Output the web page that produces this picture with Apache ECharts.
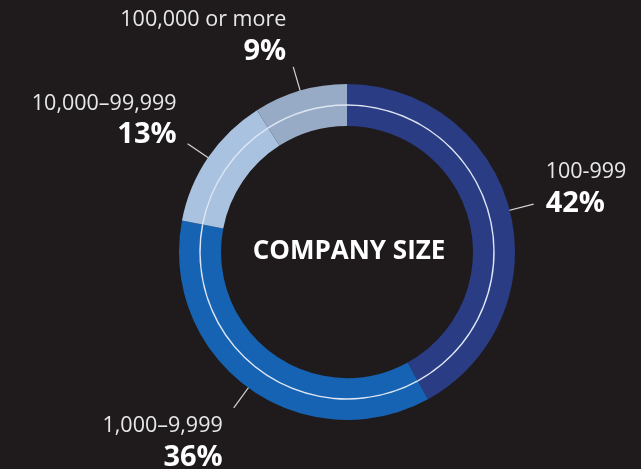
<!DOCTYPE html>
<html>
<head>
<meta charset="utf-8">
<style>
  html, body { margin: 0; padding: 0; background: #1f1b1c; }
  #chart { width: 641px; height: 469px; }
</style>
<script src="https://cdn.jsdelivr.net/npm/echarts@6/dist/echarts.min.js"></script>
</head>
<body>
<div id="chart"></div>
<script>
// Share of respondents by company size (number of employees)
const sizeCategories = ['100-999', '1,000–9,999', '10,000–99,999', '100,000 or more'];
const sizeShares = [42, 36, 13, 9];
const sliceColors = ['#2a3c84', '#1763b3', '#a9c2e0', '#98abc6'];
const centerTitle = 'COMPANY SIZE';

// Per-slice nudges so each two-line label sits beside its leader line
const labelPadding = [
  [0, 0, 30, 7],
  [70, 6, 0, 0],
  [0, 6, 46, 0],
  [0, 2, 60, 0]
];

const FONT = '"Open Sans", "Noto Sans", sans-serif';
const CENTER = [347, 252];

const ringData = sizeCategories.map((name, i) => ({
  name,
  value: sizeShares[i],
  itemStyle: { color: sliceColors[i] }
}));

const guideData = sizeCategories.map((name, i) => ({
  name,
  value: sizeShares[i],
  label: { padding: labelPadding[i] }
}));

const chart = echarts.init(document.getElementById('chart'), null, { renderer: 'canvas' });

chart.setOption({
  backgroundColor: '#1f1b1c',
  animation: false,
  graphic: [{
    type: 'text',
    x: CENTER[0] + 2,
    y: CENTER[1],
    style: {
      text: centerTitle,
      fill: '#ffffff',
      fontFamily: FONT,
      fontWeight: 'bold',
      fontSize: 26,
      align: 'center',
      verticalAlign: 'middle'
    }
  }],
  series: [
    {
      // coloured ring
      type: 'pie',
      center: CENTER,
      radius: [126, 168],
      startAngle: 90,
      clockwise: true,
      silent: true,
      label: { show: false },
      labelLine: { show: false },
      itemStyle: { borderWidth: 0 },
      data: ringData
    },
    {
      // thin guide circle inside the ring, carrying the leader lines and labels
      type: 'pie',
      center: CENTER,
      radius: [146.3, 147.7],
      startAngle: 90,
      clockwise: true,
      silent: true,
      avoidLabelOverlap: false,
      itemStyle: { color: '#dde6f3', borderWidth: 0 },
      label: {
        show: true,
        position: 'outside',
        overflow: 'none',
        formatter: p => '{name|' + p.name + '}\n{pct|' + p.value + '%}',
        rich: {
          name: { color: '#e8e8e8', fontFamily: FONT, fontSize: 21.5, lineHeight: 29 },
          pct: { color: '#ffffff', fontFamily: FONT, fontWeight: 'bold', fontSize: 29, lineHeight: 34 }
        }
      },
      labelLine: {
        show: true,
        length: 45,
        length2: 0,
        smooth: false,
        lineStyle: { color: '#d4d4d4', width: 1.2 }
      },
      data: guideData
    }
  ]
});
</script>
</body>
</html>
